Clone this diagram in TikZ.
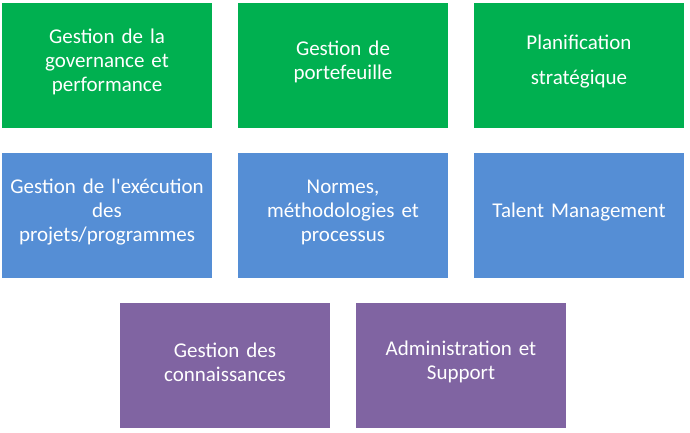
\documentclass[tikz,border=0pt]{standalone}
\usepackage{fontspec}
\setmainfont{Carlito}
\definecolor{cgreen}{HTML}{00B050}
\definecolor{cblue}{HTML}{558ED5}
\definecolor{cpurple}{HTML}{8064A2}
\begin{document}
\begin{tikzpicture}[x=1pt,y=-1pt,
  box/.style={minimum width=211pt,minimum height=126pt,inner sep=0pt,outer sep=0pt,draw=white,line width=0.6pt},
  lbl/.style={text=white,align=center,font=\fontsize{21}{24}\selectfont,text width=209pt},
  gbox/.style={box,fill=cgreen},
  bbox/.style={box,fill=cblue},
  pbox/.style={box,fill=cpurple}]
\useasboundingbox (0,0) rectangle (690,433);
\node[gbox] (g1) at (107,65) {};
\node[gbox] (g2) at (343,65) {};
\node[gbox] (g3) at (579,65) {};
\node[bbox] (b1) at (107,215) {};
\node[bbox] (b2) at (343,215) {};
\node[bbox] (b3) at (579,215) {};
\node[pbox] (p1) at (225,365) {};
\node[pbox] (p2) at (461,365) {};
\node[lbl] (t1) at ([yshift=3pt]g1.center) {Gestion de la\\governance et\\performance};
\node[lbl] (t2) at ([yshift=3pt]g2.center) {Gestion de\\portefeuille};
\node[lbl,font=\fontsize{21}{35}\selectfont] (t3) at ([yshift=3pt]g3.center) {Planification\\stratégique};
\node[lbl] (t4) at ([yshift=3pt]b1.center) {Gestion de l\textquotesingle exécution\\des\\projets/programmes};
\node[lbl] (t5) at ([yshift=3pt]b2.center) {Normes,\\méthodologies et\\processus};
\node[lbl] (t6) at ([yshift=3pt]b3.center) {Talent Management};
\node[lbl] (t7) at ([yshift=3pt]p1.center) {Gestion des\\connaissances};
\node[lbl] (t8) at ([yshift=3pt]p2.center) {Administration et\\Support};
\end{tikzpicture}
\end{document}
